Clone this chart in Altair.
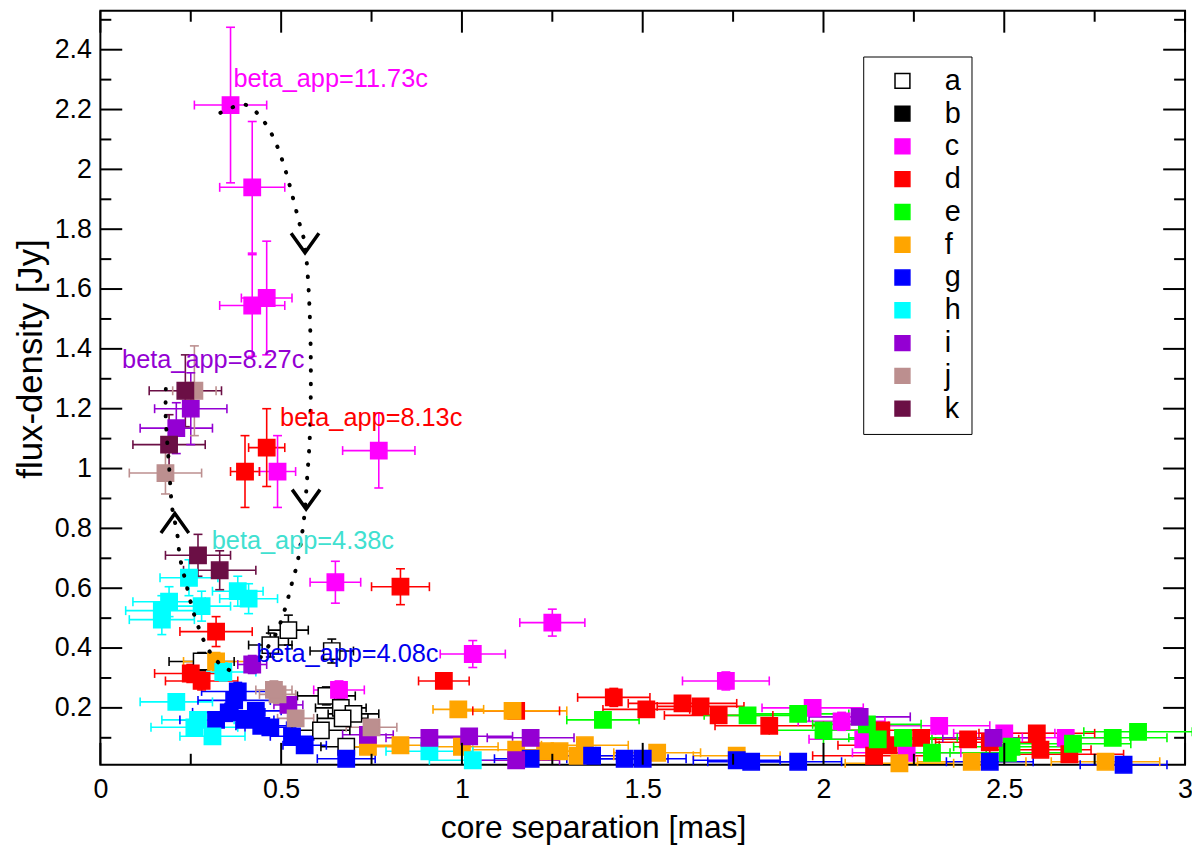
import altair as alt
import pandas as pd

SERIES = ['a', 'b', 'c', 'd', 'e', 'f', 'g', 'h', 'i', 'j', 'k']
FILL_COLORS = ['white', 'black', '#ff00ff', '#ff0000', '#00ff00', '#ffa500',
               '#0000ff', '#00ffff', '#9400d3', '#bc8f8f', '#6b0f45']
LINE_COLORS = ['black'] + FILL_COLORS[1:]

# core separation [mas], flux density [Jy] and their errors, per component
A_X = [0.52, 0.47, 0.64, 0.28, 0.625, 0.665, 0.70, 0.67, 0.61, 0.68]
A_Y = [0.46, 0.41, 0.39, 0.355, 0.24, 0.20, 0.18, 0.165, 0.125, 0.07]
A_XERR = [0.055, 0.06, 0.06, 0.09, 0.08, 0.07, 0.07, 0.07, 0.08, 0.07]
A_YERR = [0.05, 0.04, 0.04, 0.03, 0.03, 0.03, 0.02, 0.02, 0.02, 0.02]

B_X = []
B_Y = []
B_XERR = []
B_YERR = []

C_X = [0.36, 0.42, 0.42, 0.46, 0.77, 0.49, 0.65, 1.25, 1.03, 1.73, 0.66,
       1.97, 2.05, 2.32, 2.50, 2.11, 2.23, 2.67]
C_Y = [2.215, 1.94, 1.545, 1.57, 1.06, 0.99, 0.62, 0.485, 0.38, 0.29, 0.26,
       0.20, 0.155, 0.14, 0.115, 0.095, 0.05, 0.10]
C_XERR = [0.10, 0.09, 0.09, 0.07, 0.10, 0.05, 0.07, 0.09, 0.09, 0.12, 0.07,
          0.14, 0.12, 0.14, 0.14, 0.15, 0.15, 0.12]
C_YERR = [0.26, 0.22, 0.17, 0.19, 0.125, 0.12, 0.07, 0.045, 0.045, 0.03, 0.03,
          0.02, 0.03, 0.02, 0.02, 0.02, 0.02, 0.02]

D_X = [0.46, 0.40, 0.83, 0.32, 0.95, 0.25, 0.28, 1.42, 1.51, 1.61, 1.66,
       1.71, 1.85, 1.15, 2.16, 2.18, 2.27, 2.40, 2.59, 2.14, 2.46, 2.60, 2.68]
D_Y = [1.07, 0.99, 0.605, 0.455, 0.29, 0.315, 0.29, 0.235, 0.195, 0.215,
       0.205, 0.175, 0.14, 0.19, 0.125, 0.075, 0.10, 0.095, 0.115, 0.04,
       0.085, 0.06, 0.045]
D_XERR = [0.05, 0.04, 0.08, 0.10, 0.07, 0.10, 0.10, 0.10, 0.12, 0.15, 0.12,
          0.15, 0.15, 0.12, 0.15, 0.14, 0.13, 0.14, 0.16, 0.17, 0.15, 0.14,
          0.15]
D_YERR = [0.13, 0.12, 0.06, 0.05, 0.02, 0.03, 0.03, 0.03, 0.02, 0.02, 0.02,
          0.02, 0.02, 0.02, 0.02, 0.02, 0.02, 0.02, 0.02, 0.02, 0.02, 0.02,
          0.02]

E_X = [1.39, 1.79, 1.93, 2.00, 2.12, 2.15, 2.22, 2.30, 2.51, 2.69, 2.80,
       2.87, 2.52]
E_Y = [0.16, 0.175, 0.18, 0.125, 0.145, 0.095, 0.10, 0.05, 0.05, 0.08, 0.10,
       0.12, 0.07]
E_XERR = [0.10, 0.12, 0.14, 0.15, 0.15, 0.15, 0.15, 0.15, 0.16, 0.16, 0.15,
          0.15, 0.16]
E_YERR = [0.02, 0.02, 0.02, 0.02, 0.02, 0.02, 0.02, 0.02, 0.02, 0.02, 0.02,
          0.02, 0.02]

F_X = [0.32, 0.99, 1.14, 0.83, 1.00, 1.15, 1.23, 1.27, 1.34, 1.32, 1.54,
       1.76, 0.74, 2.21, 2.41, 2.78]
F_Y = [0.355, 0.195, 0.19, 0.075, 0.07, 0.06, 0.055, 0.055, 0.075, 0.04,
       0.05, 0.04, 0.07, 0.015, 0.02, 0.02]
F_XERR = [0.09, 0.07, 0.15, 0.07, 0.10, 0.12, 0.10, 0.10, 0.12, 0.10, 0.12,
          0.12, 0.08, 0.15, 0.15, 0.15]
F_YERR = [0.03, 0.02, 0.02, 0.02, 0.02, 0.02, 0.02, 0.02, 0.02, 0.02, 0.02,
          0.02, 0.02, 0.02, 0.02, 0.02]

G_X = [0.38, 0.37, 0.355, 0.32, 0.40, 0.43, 0.47, 0.445, 0.53, 0.565, 0.68,
       1.19, 1.36, 1.45, 1.50, 1.76, 1.80, 1.93, 2.46, 2.83]
G_Y = [0.255, 0.225, 0.185, 0.16, 0.16, 0.19, 0.135, 0.14, 0.105, 0.075,
       0.03, 0.03, 0.04, 0.03, 0.03, 0.025, 0.02, 0.02, 0.02, 0.01]
G_XERR = [0.10, 0.10, 0.10, 0.10, 0.08, 0.07, 0.07, 0.07, 0.06, 0.06, 0.08,
          0.10, 0.12, 0.12, 0.12, 0.12, 0.12, 0.12, 0.12, 0.12]
G_YERR = [0.03, 0.03, 0.03, 0.02, 0.02, 0.02, 0.02, 0.02, 0.02, 0.02, 0.02,
          0.02, 0.02, 0.02, 0.02, 0.02, 0.02, 0.02, 0.02, 0.02]

H_X = [0.245, 0.19, 0.17, 0.17, 0.28, 0.38, 0.41, 0.34, 0.21, 0.27, 0.26,
       0.31, 0.91, 1.03]
H_Y = [0.635, 0.555, 0.525, 0.495, 0.54, 0.59, 0.565, 0.32, 0.22, 0.16,
       0.135, 0.105, 0.055, 0.025]
H_XERR = [0.08, 0.10, 0.10, 0.09, 0.08, 0.07, 0.08, 0.09, 0.10, 0.10, 0.12,
          0.09, 0.12, 0.12]
H_YERR = [0.06, 0.05, 0.05, 0.05, 0.05, 0.05, 0.05, 0.03, 0.02, 0.02, 0.02,
          0.02, 0.02, 0.02]

I_X = [0.25, 0.21, 0.42, 0.52, 0.91, 1.02, 1.19, 1.15, 0.74, 2.10, 2.47]
I_Y = [1.20, 1.135, 0.345, 0.21, 0.10, 0.105, 0.10, 0.025, 0.11, 0.17, 0.10]
I_XERR = [0.10, 0.10, 0.04, 0.04, 0.12, 0.12, 0.12, 0.12, 0.07, 0.14, 0.14]
I_YERR = [0.12, 0.085, 0.03, 0.02, 0.02, 0.02, 0.02, 0.02, 0.02, 0.02, 0.02]

J_X = [0.26, 0.18, 0.49, 0.48, 0.54, 0.75]
J_Y = [1.26, 0.985, 0.245, 0.26, 0.165, 0.135]
J_XERR = [0.06, 0.10, 0.05, 0.05, 0.05, 0.07]
J_YERR = [0.15, 0.07, 0.03, 0.03, 0.02, 0.02]

K_X = [0.235, 0.19, 0.27, 0.33]
K_Y = [1.26, 1.08, 0.71, 0.66]
K_XERR = [0.10, 0.10, 0.09, 0.10]
K_YERR = [0.12, 0.10, 0.07, 0.065]

# dotted tracks and their arrow heads
TRACK_1_X = [0.332, 0.401, 0.453, 0.486, 0.511, 0.530, 0.549, 0.566, 0.577,
             0.582, 0.580, 0.571, 0.563, 0.547, 0.530, 0.511, 0.486, 0.451,
             0.423]
TRACK_1_Y = [2.189, 2.216, 2.159, 2.086, 2.000, 1.917, 1.827, 1.744, 1.575,
             1.362, 1.130, 0.954, 0.831, 0.698, 0.618, 0.532, 0.449, 0.382,
             0.339]
TRACK_2_X = [0.181, 0.181, 0.190, 0.198, 0.212, 0.220, 0.236, 0.253, 0.264,
             0.277, 0.291, 0.310, 0.335, 0.363]
TRACK_2_Y = [1.266, 1.163, 1.007, 0.874, 0.787, 0.704, 0.621, 0.538, 0.495,
             0.452, 0.412, 0.375, 0.342, 0.322]
ARROW_DOWN_X = [0.566, 0.569]
ARROW_DOWN_Y = [1.754, 0.897]
ARROW_UP_X = [0.206]
ARROW_UP_Y = [0.817]

ANNOT_TEXT = ['beta_app=11.73c', 'beta_app=8.27c', 'beta_app=8.13c',
              'beta_app=4.38c', 'beta_app=4.08c']
ANNOT_X = [0.368, 0.060, 0.497, 0.308, 0.431]
ANNOT_Y = [2.276, 1.336, 1.143, 0.731, 0.352]
ANNOT_COLORS = ['#ff00ff', '#9400d3', '#ff0000', '#40e0d0', '#0000ee']

X_MAJOR = [0, 0.5, 1, 1.5, 2, 2.5, 3]
X_MINOR = [0.25, 0.75, 1.25, 1.75, 2.25, 2.75]
Y_MAJOR = [0.2, 0.4, 0.6, 0.8, 1, 1.2, 1.4, 1.6, 1.8, 2, 2.2, 2.4]
Y_MINOR = [0.1, 0.3, 0.5, 0.7, 0.9, 1.1, 1.3, 1.5, 1.7, 1.9, 2.1, 2.3, 2.5]

W, H = 1092, 759
FONT = 'Liberation Sans'


def series_rows(name, xs, ys, xerr, yerr):
    return [{'series': name, 'x': x, 'y': y, 'xlo': x - ex, 'xhi': x + ex,
             'ylo': y - ey, 'yhi': y + ey}
            for x, y, ex, ey in zip(xs, ys, xerr, yerr)]


rows = []
for name, xs, ys, xe, ye in [
        ('a', A_X, A_Y, A_XERR, A_YERR), ('b', B_X, B_Y, B_XERR, B_YERR),
        ('c', C_X, C_Y, C_XERR, C_YERR), ('d', D_X, D_Y, D_XERR, D_YERR),
        ('e', E_X, E_Y, E_XERR, E_YERR), ('f', F_X, F_Y, F_XERR, F_YERR),
        ('g', G_X, G_Y, G_XERR, G_YERR), ('h', H_X, H_Y, H_XERR, H_YERR),
        ('i', I_X, I_Y, I_XERR, I_YERR), ('j', J_X, J_Y, J_XERR, J_YERR),
        ('k', K_X, K_Y, K_XERR, K_YERR)]:
    rows += series_rows(name, xs, ys, xe, ye)
points = pd.DataFrame(rows)

tracks = pd.DataFrame(
    [{'curve': 1, 'idx': i, 'x': x, 'y': y}
     for i, (x, y) in enumerate(zip(TRACK_1_X, TRACK_1_Y))] +
    [{'curve': 2, 'idx': i, 'x': x, 'y': y}
     for i, (x, y) in enumerate(zip(TRACK_2_X, TRACK_2_Y))])

annots = pd.DataFrame({'x': ANNOT_X, 'y': ANNOT_Y, 'text': ANNOT_TEXT,
                       'color': ANNOT_COLORS})

x_scale = alt.Scale(domain=[0, 3], nice=False, zero=False)
y_scale = alt.Scale(domain=[0.01, 2.53], nice=False, zero=False)

X_AXIS = alt.Axis(
    values=X_MAJOR, format='~g', ticks=False, domain=False, grid=False,
    labelFontSize=27, labelPadding=12, labelFlush=False,
    title='core separation [mas]', titleFontSize=32,
    titleFontWeight='normal', titleX=496, titleY=73,
    titleAlign='center', titleBaseline='alphabetic')
Y_AXIS = alt.Axis(
    values=Y_MAJOR, format='~g', ticks=False, domain=False, grid=False,
    labelFontSize=27, labelPadding=9,
    title='flux-density [Jy]', titleFontSize=35,
    titleFontWeight='normal', titleAngle=270, titleX=-70, titleY=350,
    titleAlign='center', titleBaseline='middle')

LEGEND = alt.Legend(
    title=None, orient='none', legendX=768, legendY=46,
    symbolType='square', symbolSize=225, symbolStrokeWidth=1.5,
    symbolOffset=15, labelOffset=28, labelFontSize=29, labelFont=FONT,
    labelColor='black', padding=10, rowPadding=3,
    strokeColor='black', fillColor='white',
)


def xenc(field):
    return alt.X(f'{field}:Q', scale=x_scale, axis=X_AXIS)


def yenc(field):
    return alt.Y(f'{field}:Q', scale=y_scale, axis=Y_AXIS)


stroke = alt.Stroke('series:N', legend=LEGEND,
                    scale=alt.Scale(domain=SERIES, range=LINE_COLORS))
fill = alt.Fill('series:N', legend=LEGEND,
                scale=alt.Scale(domain=SERIES, range=FILL_COLORS))

base = alt.Chart(points)

xbars = base.mark_rule(strokeWidth=1.6).encode(
    x=xenc('xlo'), x2='xhi:Q', y=yenc('y'), stroke=stroke)
ybars = base.mark_rule(strokeWidth=1.6).encode(
    x=xenc('x'), y=yenc('ylo'), y2='yhi:Q', stroke=stroke)
caps = []
for f in ['xlo', 'xhi']:
    caps.append(base.mark_rule(strokeWidth=1.6, yOffset=-4.5,
                               y2Offset=4.5).encode(
        x=xenc(f), y=yenc('y'), y2='y:Q', stroke=stroke))
for f in ['ylo', 'yhi']:
    caps.append(base.mark_rule(strokeWidth=1.6, xOffset=-4.5,
                               x2Offset=4.5).encode(
        x=xenc('x'), x2='x:Q', y=yenc(f), stroke=stroke))

squares = base.mark_square(size=270, strokeWidth=1.5, opacity=1).encode(
    x=xenc('x'), y=yenc('y'), fill=fill, stroke=stroke)

dotted = alt.Chart(tracks).mark_line(
    color='black', strokeWidth=4, strokeDash=[0.5, 13], strokeCap='round',
    interpolate='cardinal').encode(
    x=xenc('x'), y=yenc('y'), detail='curve:N', order='idx:O')

arrows_down = alt.Chart(pd.DataFrame({'x': ARROW_DOWN_X, 'y': ARROW_DOWN_Y})
                        ).mark_point(shape='M-1,-0.7L0,0.7L1,-0.7', size=784,
                                     filled=False, strokeWidth=3.5,
                                     color='black', opacity=1).encode(
    x=xenc('x'), y=yenc('y'))
arrows_up = alt.Chart(pd.DataFrame({'x': ARROW_UP_X, 'y': ARROW_UP_Y})
                      ).mark_point(shape='M-1,0.7L0,-0.7L1,0.7', size=784,
                                   filled=False, strokeWidth=3.5,
                                   color='black', opacity=1).encode(
    x=xenc('x'), y=yenc('y'))

labels = alt.Chart(annots).mark_text(
    align='left', baseline='alphabetic', fontSize=25.5, font=FONT).encode(
    x=xenc('x'), y=yenc('y'), text='text:N',
    color=alt.Color('color:N', scale=None))


def frame_ticks(values, field, length):
    """Inward ticks on all four sides of the frame."""
    chart = alt.Chart(pd.DataFrame({field: values})).mark_rule(
        color='black', strokeWidth=2)
    if field == 'x':
        return [chart.encode(x=xenc('x'), y=alt.value(H),
                             y2=alt.value(H - length)),
                chart.encode(x=xenc('x'), y=alt.value(0),
                             y2=alt.value(length))]
    return [chart.encode(y=yenc('y'), x=alt.value(0), x2=alt.value(length)),
            chart.encode(y=yenc('y'), x=alt.value(W - length),
                         x2=alt.value(W))]


ticks = (frame_ticks(X_MAJOR, 'x', 22) + frame_ticks(X_MINOR, 'x', 11) +
         frame_ticks(Y_MAJOR, 'y', 22) + frame_ticks(Y_MINOR, 'y', 11))

chart = alt.layer(
    xbars, ybars, *caps, squares, dotted, arrows_down, arrows_up, labels,
    *ticks,
).properties(
    width=W, height=H,
    autosize=alt.AutoSizeParams(type='none'),
    padding={'left': 93, 'top': 0, 'right': 7, 'bottom': 80},
).configure(
    font=FONT,
).configure_view(
    stroke='black', strokeWidth=2,
).configure_axis(
    labelColor='black', titleColor='black', labelFont=FONT, titleFont=FONT,
)

chart.save('out.html', embed_options={'renderer': 'svg', 'actions': False})
